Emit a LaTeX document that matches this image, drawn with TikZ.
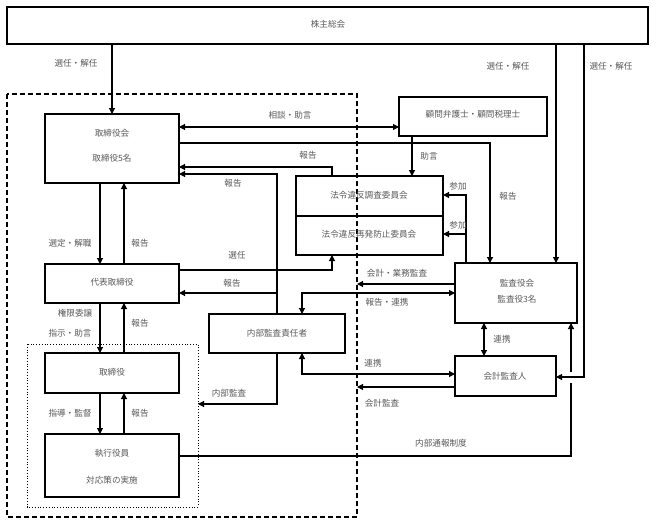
\documentclass[tikz,border=0pt]{standalone}
\usepackage{fontspec}
\newfontfamily\jp{Noto Sans CJK JP}
\usetikzlibrary{arrows.meta}
\tikzset{
  box/.style={draw=black,line width=1.2pt,inner sep=0pt,outer sep=0pt,anchor=north west},
  txt/.style={font=\jp\fontsize{8.6}{10}\selectfont,text=black!65,inner sep=0pt},
  ln/.style={line width=1.1pt},
  arr/.style={ln,-{Triangle[length=6pt,width=6pt]}},
  arrb/.style={ln,{Triangle[length=6pt,width=6pt]}-{Triangle[length=6pt,width=6pt]}}
}
\begin{document}
\begin{tikzpicture}[x=1pt,y=-1pt]
\useasboundingbox (0,0) rectangle (660,524);
% groups
\node[box,draw=none,minimum width=350pt,minimum height=423pt] (grp) at (7,94) {};
\draw[line width=1.2pt,dash pattern=on 5pt off 3pt] (grp.north west) rectangle (grp.south east);
\node[box,draw=none,minimum width=171pt,minimum height=163pt] (dot) at (27,344) {};
\draw[line width=0.8pt,dotted] (dot.north west) rectangle (dot.south east);
% boxes
\node[box,minimum width=641pt,minimum height=37pt] (sh) at (7,7) {};
\node[box,minimum width=134pt,minimum height=69pt] (tk) at (45,114) {};
\node[box,minimum width=148pt,minimum height=39pt] (kom) at (399,97) {};
\node[box,minimum width=147pt,minimum height=40pt] (hou1) at (296,176) {};
\node[box,minimum width=147pt,minimum height=39pt] (hou2) at (296,216) {};
\node[box,minimum width=134pt,minimum height=39pt] (dai) at (45,264) {};
\node[box,minimum width=136pt,minimum height=39pt] (naibu) at (209,314) {};
\node[box,minimum width=122pt,minimum height=60pt] (kansa) at (455,263) {};
\node[box,minimum width=101pt,minimum height=40pt] (kaikei) at (455,356) {};
\node[box,minimum width=134pt,minimum height=40pt] (tori) at (45,353) {};
\node[box,minimum width=134pt,minimum height=63pt] (shikko) at (45,434) {};
% box texts
\node[txt] (t1) at (328,24) {株主総会};
\node[txt] (t2) at (112,133) {取締役会};
\node[txt] (t3) at (112,158) {取締役5名};
\node[txt] (t4) at (473,114) {顧問弁護士・顧問税理士};
\node[txt] (t5) at (369,195) {法令違反調査委員会};
\node[txt] (t6) at (369,234) {法令違反再発防止委員会};
\node[txt] (t7) at (112,282) {代表取締役};
\node[txt] (t8) at (277,333) {内部監査責任者};
\node[txt] (t9) at (517,283) {監査役会};
\node[txt] (t10) at (517,299) {監査役3名};
\node[txt] (t11) at (505,376) {会計監査人};
\node[txt] (t12) at (112,372) {取締役};
\node[txt] (t13) at (112,453) {執行役員};
\node[txt] (t14) at (112,480) {対応策の実施};
% connectors
\draw[arr] (sh.south -| tk.north) -- (tk.north);
\draw[arrb] (tk.east |- 0,127) -- (kom.west |- 0,127);
\draw[arr] (tk.east |- 0,143) -| (kansa.north -| 490,0);
\draw[arr] (kom.south -| 412,0) -- (hou1.north -| 412,0);
\draw[arr] (hou1.north -| 332,0) |- (tk.east |- 0,167);
\draw[arr] (naibu.north -| 277,0) |- (tk.east |- 0,174);
\draw[arr] (277,293) -- (dai.east |- 0,293);
\draw[arr] (dai.east |- 0,270) -| (hou2.south -| 332,0);
\draw[arr] (tk.south -| 100,0) -- (dai.north -| 100,0);
\draw[arr] (dai.north -| 124,0) -- (tk.south -| 124,0);
\draw[arr] (kansa.north -| 466,0) |- (hou1.east |- 0,195);
\draw[arr] (466,234) -- (hou2.east |- 0,234);
\draw[arr] (kansa.west |- 0,284) -- (grp.east |- 0,284);
\draw[arrb] (naibu.north -| 302,0) |- (kansa.west |- 0,293);
\draw[arr] (dai.south -| 100,0) -- (tori.north -| 100,0);
\draw[arr] (tori.north -| 124,0) -- (dai.south -| 124,0);
\draw[arr] (tori.south -| 100,0) -- (shikko.north -| 100,0);
\draw[arr] (shikko.north -| 124,0) -- (tori.south -| 124,0);
\draw[arr] (naibu.south -| 277,0) |- (dot.east |- 0,404);
\draw[arrb] (naibu.south -| 302,0) |- (kaikei.west |- 0,374);
\draw[arr] (kaikei.west |- 0,387) -- (grp.east |- 0,387);
\draw[ln] (shikko.east |- 0,456) -| (571,383);
\draw[arr] (571,372) -- (kansa.south -| 571,0);
\draw[arrb] (kansa.south -| 484,0) -- (kaikei.north -| 484,0);
\draw[arr] (sh.south -| 556,0) -- (kansa.north -| 556,0);
\draw[arr] (sh.south -| 584,0) |- (kaikei.east |- 0,377);
% labels
\node[txt] (l1) at (76,63) {選任・解任};
\node[txt] (l2) at (508,66) {選任・解任};
\node[txt] (l3) at (611,66) {選任・解任};
\node[txt] (l4) at (290,115) {相談・助言};
\node[txt] (l5) at (308,155) {報告};
\node[txt] (l6) at (233,183) {報告};
\node[txt] (l7) at (429,156) {助言};
\node[txt] (l8) at (508,196) {報告};
\node[txt] (l9) at (458,186) {参加};
\node[txt] (l10) at (458,225) {参加};
\node[txt] (l11) at (70,243) {選定・解職};
\node[txt] (l12) at (140,243) {報告};
\node[txt] (l13) at (237,255) {選任};
\node[txt] (l14) at (232,283) {報告};
\node[txt] (l15) at (397,273) {会計・業務監査};
\node[txt] (l16) at (387,302) {報告・連携};
\node[txt] (l17) at (75,313) {権限委譲};
\node[txt] (l18) at (70,333) {指示・助言};
\node[txt] (l19) at (140,323) {報告};
\node[txt] (l20) at (502,339) {連携};
\node[txt] (l21) at (373,363) {連携};
\node[txt] (l22) at (229,393) {内部監査};
\node[txt] (l23) at (382,403) {会計監査};
\node[txt] (l24) at (70,413) {指導・監督};
\node[txt] (l25) at (140,413) {報告};
\node[txt] (l26) at (441,443) {内部通報制度};
\end{tikzpicture}
\end{document}
